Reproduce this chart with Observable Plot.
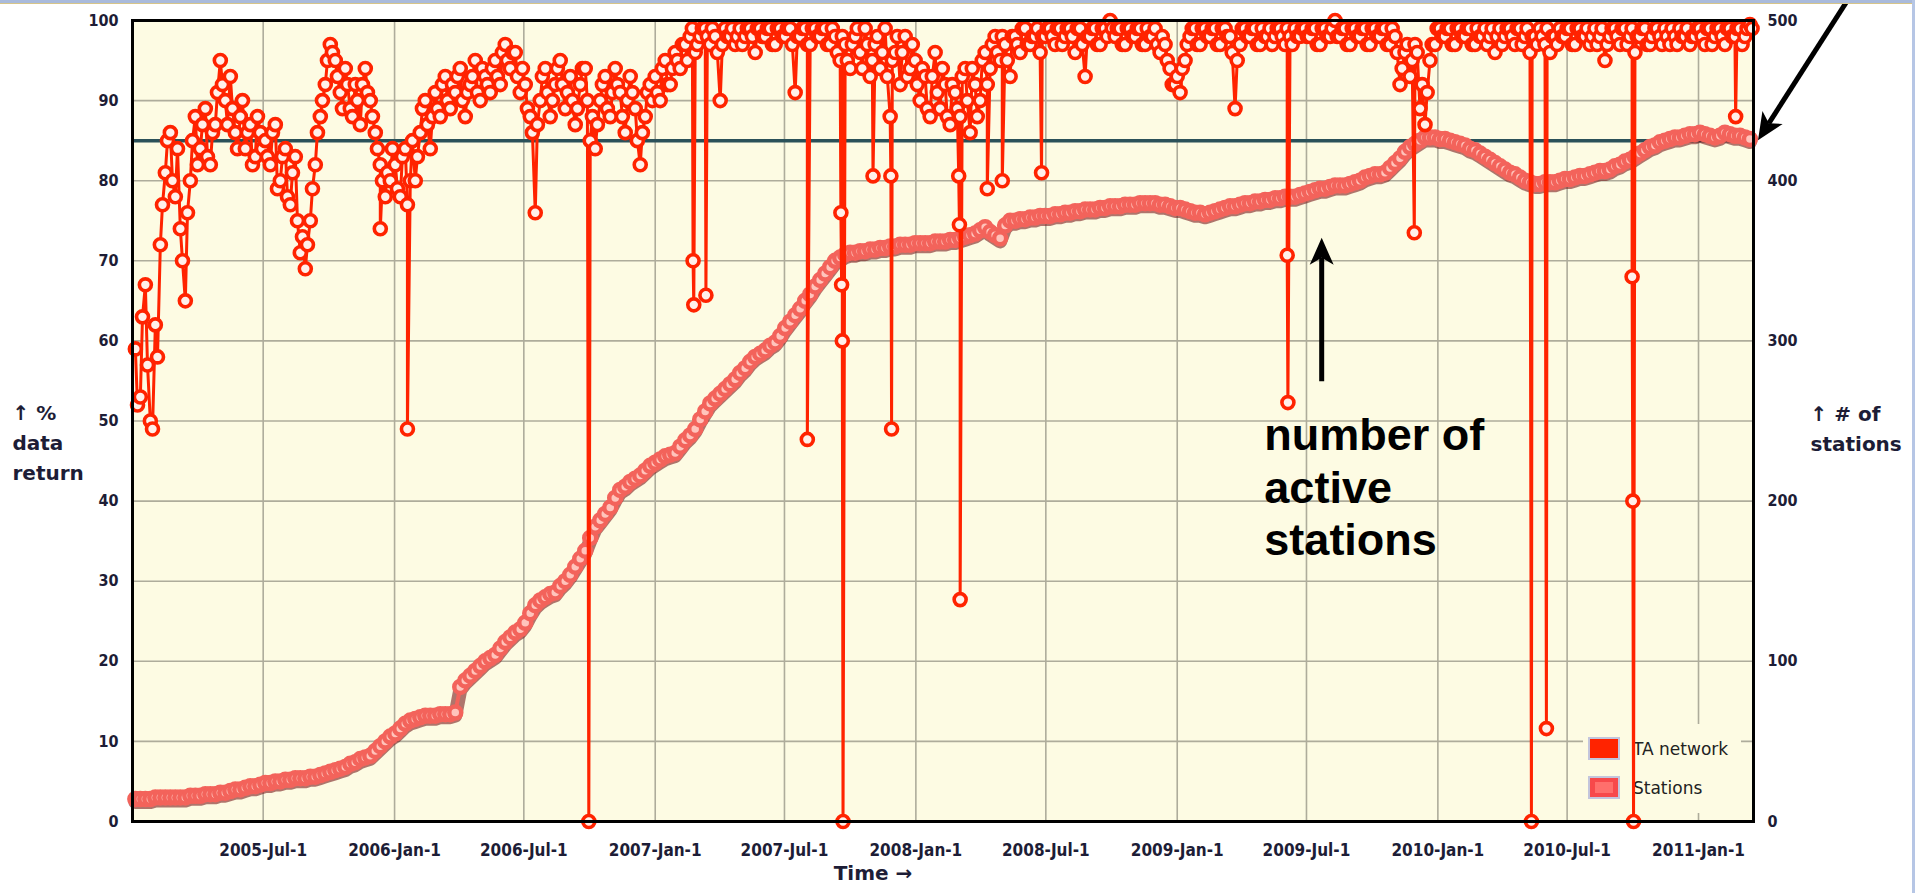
<!DOCTYPE html>
<html>
<head>
<meta charset="utf-8">
<script src="https://cdn.jsdelivr.net/npm/d3@7"></script>
<script src="https://cdn.jsdelivr.net/npm/@observablehq/plot@0.6"></script>
<style>
  html, body { margin: 0; padding: 0; background: #ffffff; }
  body { width: 1915px; height: 893px; overflow: hidden; position: relative; }
  #chart svg { display: block; overflow: visible; }
  .edge-top { position: absolute; left: 0; top: 0; width: 1915px; height: 3px; background: #a9badb; border-bottom: 1px solid #d6c488; }
  .edge-right { position: absolute; right: 0; top: 0; width: 3px; height: 893px; background: #b6c6e5; }
</style>
</head>
<body>
<div id="chart"></div>
<div class="edge-top"></div>
<div class="edge-right"></div>
<script>
// Samples taken twice a week (Monday and Thursday), starting on the first Monday of 2005.
const firstWeek = "2005-01-03";

// Transportable Array network: % of data returned, Monday samples.
const taReturn = [
  59,53,67,50,62,72,81,86,78,74,65,80,88,84,89,82,87,95,90,93,86,88,84,87,83,86,
  85,82,87,80,84,77,83,71,69,75,82,88,92,97,95,91,94,89,92,87,94,90,86,82,78,80,
  82,78,84,80,80,86,90,84,91,88,93,89,91,94,88,92,95,90,93,91,95,92,97,94,96,91,
  92,88,76,90,94,88,92,95,89,93,87,92,94,85,84,90,93,88,94,91,86,93,89,82,88,92,
  93,90,95,92,96,94,97,98,96,98,99,97,98,90,99,98,97,99,98,99,96,99,98,99,97,99,
  98,99,91,98,99,97,99,98,99,97,98,95,97,94,98,96,99,93,97,94,99,88,96,92,98,94,
  95,90,93,88,96,89,92,87,91,88,94,86,92,90,96,94,98,95,97,93,98,96,99,97,98,96,
  98,99,97,99,98,99,96,99,93,98,99,97,99,100,98,99,97,99,98,99,97,98,99,96,97,94,
  92,91,95,98,99,97,99,98,99,97,99,98,89,97,99,98,99,97,98,99,98,99,97,98,99,98,
  99,98,99,97,99,98,100,98,99,97,99,98,99,97,99,98,99,97,98,92,96,93,97,89,87,95,
  97,99,98,99,97,99,98,99,97,98,99,98,96,99,98,99,97,99,98,96,98,99,97,96,98,99,
  98,99,97,99,98,97,99,98,95,98,99,97,99,98,96,98,99,97,99,98,99,97,98,99,98,97,
  98,99,97,99,98,99,97,99,98,99,98,99.5
];

// Transportable Array network: % of data returned, Thursday samples.
const taReturnMidweek = [
  52,63,57,49,58,77,85,80,84,70,76,85,82,87,83,86,91,92,87,89,84,90,86,82,88,84,
  83,86,79,83,78,81,75,73,72,79,86,90,95,96,93,89,92,88,90,92,91,88,84,80,81,84,
  79,83,77,85,83,89,87,88,89,92,90,92,93,90,91,93,91,94,92,94,93,96,95,96,93,94,
  89,86,87,93,91,90,94,92,91,90,89,94,90,88,87,92,89,91,92,88,90,91,85,86,91,90,
  91,94,92,94,95,97,95,99,97,99,98,99,96,97,98,99,98,97,99,98,99,98,99,97,99,98,
  99,97,98,99,97,99,98,99,97,99,96,98,95,97,99,94,97,95,98,96,93,95,98,96,93,97,
  92,94,89,93,91,94,88,92,89,93,90,94,88,95,92,97,96,98,95,98,97,99,97,98,99,98,
  99,98,99,97,99,98,99,97,98,99,97,99,98,99,99,97,99,98,99,97,99,98,97,98,95,92,
  93,94,97,99,97,99,98,99,97,99,98,96,95,99,98,99,97,99,98,97,99,98,99,97,98,99,
  98,99,97,99,98,99,98,99,97,99,98,99,97,99,98,99,97,99,96,94,97,95,96,92,91,97,
  99,98,99,97,99,98,99,97,99,98,97,99,98,97,99,98,99,97,99,98,97,98,99,98,97,98,
  99,97,99,98,99,98,97,99,97,99,98,99,97,99,98,99,97,98,99,97,98,99,97,98,99,98,
  99,98,99,97,99,98,99,98,99,97,99,99
];

// Short outages between the regular samples (day, % returned).
const dipDates = [
  "2005-12-12","2006-01-19","2006-09-30","2007-02-23","2007-02-24","2007-03-13",
  "2007-08-02","2007-09-18","2007-09-19","2007-09-20","2007-09-21","2007-11-02",
  "2007-11-27","2007-11-28","2008-03-01","2008-03-02","2008-03-03","2008-04-10",
  "2008-05-01","2008-06-25","2009-06-04","2009-06-05","2009-11-29","2010-05-12",
  "2010-06-02","2010-09-30","2010-10-01","2010-10-02","2011-02-22"
];
const dipValues = [
  74,49,0,70,64.5,65.7,
  47.7,76,67,60,0,80.6,
  80.6,49,80.6,74.5,27.7,79,
  80,81,70.7,52.3,73.5,0,
  11.6,68,40,0,88
];

// Number of active stations each week (Monday).
const stationCount = [
  14,14,14,14,15,15,15,15,15,15,15,16,16,16,17,17,17,18,18,19,20,20,21,22,22,23,
  24,24,25,25,26,26,27,27,27,28,28,29,30,31,32,33,34,36,37,39,40,41,44,47,50,53,
  55,58,61,63,64,65,66,66,66,67,67,67,68,84,88,91,94,97,100,102,104,108,112,115,118,120,
  124,130,135,138,140,142,143,147,150,154,159,164,169,177,184,188,192,196,202,207,209,212,214,216,219,222,
  224,226,228,229,230,234,238,241,245,251,256,261,264,267,270,273,276,280,283,287,290,292,294,297,299,303,
  308,312,316,320,325,329,334,338,342,346,350,352,354,355,355,356,356,357,357,358,358,359,359,360,360,360,
  361,361,361,361,362,362,362,363,363,364,365,366,367,369,371,368,366,364,372,375,375,376,376,377,377,378,
  378,378,379,379,380,380,381,381,382,382,382,383,383,384,384,384,385,385,385,386,386,386,386,385,385,384,
  383,383,382,381,380,380,379,380,381,382,383,384,384,385,386,386,387,387,388,388,389,389,390,390,390,391,
  392,393,394,395,395,396,397,397,397,398,399,400,402,403,404,404,405,408,411,414,418,421,423,425,427,427,
  427,426,426,425,424,423,422,420,419,417,415,413,411,409,407,405,404,402,400,399,398,398,399,399,399,400,
  401,401,402,403,403,404,405,406,406,407,409,410,412,413,415,417,419,421,422,424,425,426,427,427,428,429,
  429,430,429,428,427,428,430,429,428,428,427,426
];

const returnTicks = [0, 10, 20, 30, 40, 50, 60, 70, 80, 90, 100];
const stationTicks = [0, 100, 200, 300, 400, 500];
const timeTicks = [
  "2005-07-01","2006-01-01","2006-07-01","2007-01-01","2007-07-01","2008-01-01",
  "2008-07-01","2009-01-01","2009-07-01","2010-01-01","2010-07-01","2011-01-01"
];
const seriesNames = ["TA network", "Stations"];
const targetReturn = 85;
const stationsPerPercent = 5; // right axis: 500 stations spans the 0–100 % range

// ---- assemble the series ----
const parse = d3.isoParse;
const start = parse(firstWeek);
const weekDates = taReturn.map((_, i) => d3.utcDay.offset(start, 7 * i));
const taSeries = weekDates
  .flatMap((date, i) => [
    {date, value: taReturn[i]},
    {date: d3.utcDay.offset(date, 3), value: taReturnMidweek[i]}
  ])
  .concat(dipDates.map((d, i) => ({date: parse(d), value: dipValues[i]})))
  .sort((a, b) => a.date - b.date);
const stationSeries = stationCount.map((count, i) => ({date: weekDates[i], count}));
const stationY = d => d.count / stationsPerPercent;

const cream = "#fdfbe3";
const ink = "#1d1d36";
const taRed = "#ff2300";
const stationRed = "#f3635b";

// Legend box in the lower-right corner of the plotting area.
function legendMark(index, scales, values, dims) {
  const right = dims.width - dims.marginRight;
  const bottom = dims.height - dims.marginBottom;
  const g = d3.create("svg:g");
  g.append("rect").attr("x", right - 170).attr("y", bottom - 97)
    .attr("width", 158).attr("height", 89).attr("fill", cream);
  const fills = [taRed, "#f7494b"];
  seriesNames.forEach((name, i) => {
    const y = bottom - 83 + i * 39;
    g.append("rect").attr("x", right - 164).attr("y", y).attr("width", 30).attr("height", 21)
      .attr("fill", fills[i]).attr("stroke", "#c3c5dc").attr("stroke-width", 2);
    if (i === 1) {
      g.append("rect").attr("x", right - 158).attr("y", y + 5).attr("width", 18).attr("height", 11)
        .attr("fill", "#ff6f6c");
    }
    g.append("text").attr("x", right - 120).attr("y", y + 11).attr("dy", "0.35em")
      .attr("text-anchor", "start")
      .attr("font-family", "DejaVu Sans, sans-serif").attr("font-size", 17)
      .attr("fill", "#222").text(name);
  });
  return g.node();
}

// Filled-head arrows positioned through the chart scales.
function arrowMark(pairs) {
  return (index, scales) => {
    const g = d3.create("svg:g");
    for (const [[d1, v1], [d2, v2]] of pairs) {
      const x1 = scales.x(parse(d1)), y1 = scales.y(v1);
      const x2 = scales.x(parse(d2)), y2 = scales.y(v2);
      const a = Math.atan2(y2 - y1, x2 - x1);
      const ux = Math.cos(a), uy = Math.sin(a);
      const L = 27, W = 12, N = 7;
      const bx = x2 - ux * L, by = y2 - uy * L;
      const nx = x2 - ux * (L - N), ny = y2 - uy * (L - N);
      g.append("line").attr("x1", x1).attr("y1", y1).attr("x2", nx).attr("y2", ny)
        .attr("stroke", "#000").attr("stroke-width", 5);
      g.append("path")
        .attr("d", `M${x2},${y2}L${bx - uy * W},${by + ux * W}L${nx},${ny}L${bx + uy * W},${by - ux * W}Z`)
        .attr("fill", "#000");
    }
    return g.node();
  };
}

const tickFont = "DejaVu Sans Condensed, DejaVu Sans, sans-serif";
const titleFont = "DejaVu Sans, sans-serif";

const chart = Plot.plot({
  width: 1915,
  height: 893,
  marginLeft: 132,
  marginRight: 162,
  marginTop: 20,
  marginBottom: 72,
  x: {type: "utc", domain: [parse("2004-12-30"), parse("2011-03-19")]},
  y: {domain: [0, 100]},
  style: {background: "transparent", color: ink, fontFamily: tickFont},
  marks: [
    Plot.frame({fill: cream}),
    Plot.gridY(returnTicks, {stroke: "#aeac9b", strokeOpacity: 1, strokeWidth: 1.6}),
    Plot.gridX(timeTicks.map(parse), {stroke: "#aeac9b", strokeOpacity: 1, strokeWidth: 1.6}),
    legendMark,
    Plot.ruleY([targetReturn], {stroke: "#2b5159", strokeWidth: 3.5}),

    // active stations (right axis), with a dark drop shadow under the band
    Plot.line(stationSeries, {x: "date", y: stationY, stroke: "#7a1c1c", strokeWidth: 14, dy: 3, strokeOpacity: 0.6}),
    Plot.line(stationSeries, {x: "date", y: stationY, stroke: stationRed, strokeWidth: 4}),
    Plot.dot(stationSeries, {x: "date", y: stationY, r: 6, stroke: stationRed, strokeWidth: 4.5, fill: "#ffc4bc"}),

    // TA network data return (left axis)
    Plot.line(taSeries, {x: "date", y: "value", stroke: taRed, strokeWidth: 3}),
    Plot.dot(taSeries, {x: "date", y: "value", r: 6, stroke: taRed, strokeWidth: 3.6, fill: "#fff0ea"}),

    Plot.frame({stroke: "#000", strokeWidth: 3}),

    Plot.axisY(returnTicks, {anchor: "left", tickSize: 0, tickPadding: 14, label: null,
      fontSize: 16, fontWeight: "bold", fontFamily: tickFont}),
    Plot.axisY(stationTicks.map(s => s / stationsPerPercent), {anchor: "right", tickSize: 0, tickPadding: 14, label: null,
      tickFormat: v => v * stationsPerPercent, fontSize: 16, fontWeight: "bold", fontFamily: tickFont}),
    Plot.axisX(timeTicks.map(parse), {anchor: "bottom", tickSize: 0, tickPadding: 22, label: null,
      tickFormat: d3.utcFormat("%Y-%b-%-d"), fontSize: 17, fontWeight: "bold", fontFamily: tickFont}),

    // axis titles
    Plot.text(["↑ %\ndata\nreturn"], {text: d => d, frameAnchor: "left", dx: -120, dy: 19, textAnchor: "start",
      fontSize: 20, fontWeight: "bold", fontFamily: titleFont, lineHeight: 1.5, fill: ink}),
    Plot.text(["↑ # of\nstations"], {text: d => d, frameAnchor: "right", dx: 57, dy: 5, textAnchor: "start",
      fontSize: 20, fontWeight: "bold", fontFamily: titleFont, lineHeight: 1.5, fill: ink}),
    Plot.text(["Time →"], {text: d => d, frameAnchor: "bottom", dx: -70, dy: 58,
      fontSize: 20, fontWeight: "bold", fontFamily: titleFont, fill: ink}),

    // annotation
    Plot.text([{date: parse("2009-05-03"), value: 51, label: "number of\nactive\nstations"}], {
      x: "date", y: "value", text: "label", textAnchor: "start", lineAnchor: "top",
      fontSize: 45, fontWeight: "bold", fontFamily: "Liberation Sans, Arial, sans-serif",
      lineHeight: 1.167, fill: "#000"
    }),
    arrowMark([
      [["2009-07-23", 54.9], ["2009-07-23", 72.8]],
      [["2011-08-03", 103.1], ["2011-03-26", 85]]
    ])
  ]
});

document.getElementById("chart").appendChild(chart);
</script>
</body>
</html>
